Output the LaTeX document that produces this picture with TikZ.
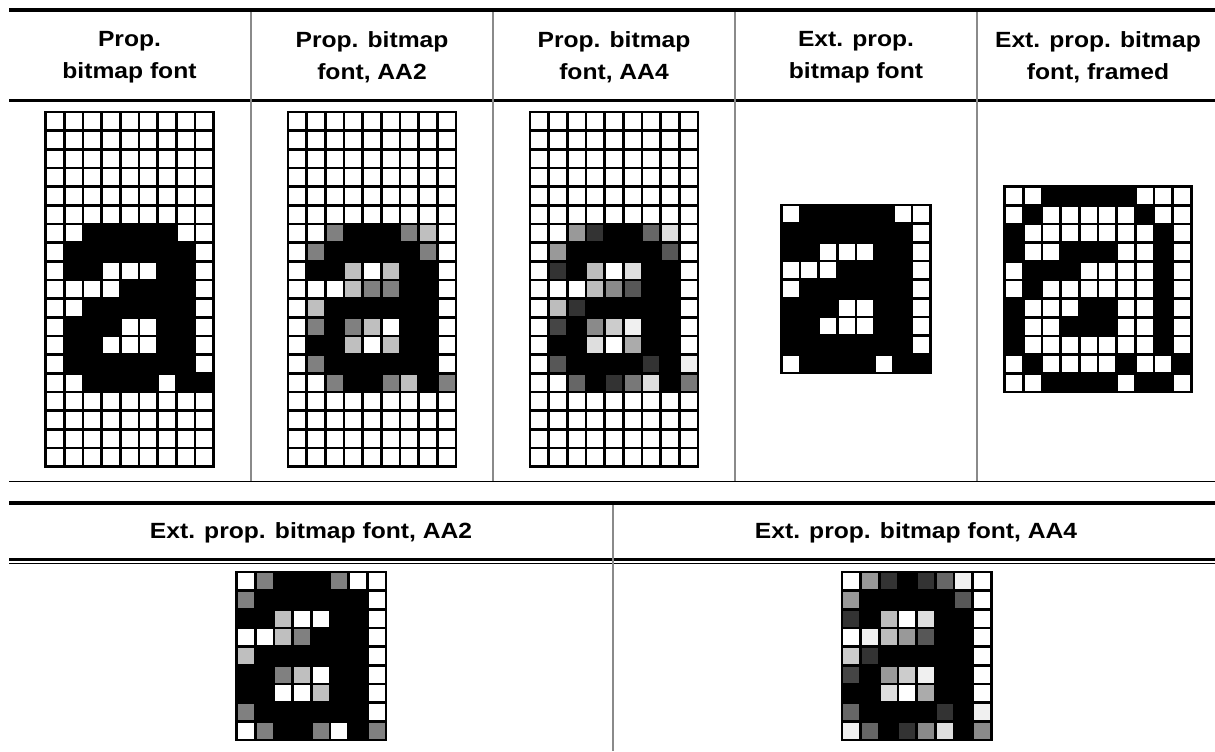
\documentclass[tikz,border=0pt]{standalone}
\usepackage{fontspec}
\setmainfont{Liberation Sans}[FakeStretch=1.12]
\usetikzlibrary{positioning}

\tikzset{
  header/.style={font=\bfseries\fontsize{16.5}{24}\selectfont, align=center, inner sep=0pt},
  pixel/.style={draw=black, line width=2pt},
  toprule/.style={draw=black, line width=3pt},
  midrule/.style={draw=black, line width=2.25pt},
  thinrule/.style={draw=black, line width=0.75pt},
  colsep/.style={draw=black!46, line width=1pt}
}

% Seitenlaenge einer Pixelzelle (in px)
\newcommand{\cellsz}{18.67}
% #1,#2: linke obere Ecke, #3: hoechste Graustufe, #4: Zeilen
\newcommand{\pixgrid}[4]{%
  \foreach \prow [count=\pr from 0] in {#4} {
    \foreach \pv [count=\pc from 0] in \prow {
      \pgfmathtruncatemacro{\pshade}{100*\pv/#3}
      \draw[pixel, fill=black!\pshade] ({#1+\pc*\cellsz},{#2+\pr*\cellsz}) rectangle ++(\cellsz,\cellsz);
    }
  }
}

\begin{document}
\begin{tikzpicture}[x=0.75pt, y=-0.75pt]
    \useasboundingbox (0,0) rectangle (1215,751);

    % ================= OBERE TABELLE =================

    % --- Linien ---
    \draw[toprule] (9,10) -- (1215,10);
    \draw[midrule] (9,100.5) -- (1215,100.5);
    \draw[thinrule] (9,481) -- (1215,481);
    \foreach \sx in {251,493,735,977}
        \draw[colsep] (\sx,12) -- (\sx,481);

    % --- Kopfzeile ---
    \node[header] (kopfA) at (129.5,57) {Prop.\\bitmap font};
    \node[header] (kopfB) at (372,57) {Prop. bitmap\\font, AA2};
    \node[header] (kopfC) at (614,57) {Prop. bitmap\\font, AA4};
    \node[header] (kopfD) at (856,57) {Ext. prop.\\bitmap font};
    \node[header] (kopfE) at (1098,57) {Ext. prop. bitmap\\font, framed};

    % --- Prop. bitmap font ---
    \pixgrid{45.5}{112}{1}{
        {0,0,0,0,0,0,0,0,0},{0,0,0,0,0,0,0,0,0},{0,0,0,0,0,0,0,0,0},
        {0,0,0,0,0,0,0,0,0},{0,0,0,0,0,0,0,0,0},{0,0,0,0,0,0,0,0,0},
        {0,0,1,1,1,1,1,0,0},{0,1,1,1,1,1,1,1,0},{0,1,1,0,0,0,1,1,0},
        {0,0,0,0,1,1,1,1,0},{0,0,1,1,1,1,1,1,0},{0,1,1,1,0,0,1,1,0},
        {0,1,1,0,0,0,1,1,0},{0,1,1,1,1,1,1,1,0},{0,0,1,1,1,1,0,1,1},
        {0,0,0,0,0,0,0,0,0},{0,0,0,0,0,0,0,0,0},{0,0,0,0,0,0,0,0,0},
        {0,0,0,0,0,0,0,0,0}}

    % --- Prop. bitmap font, AA2 (Stufen 0,1,2 und 4 = schwarz) ---
    \pixgrid{288}{112}{4}{
        {0,0,0,0,0,0,0,0,0},{0,0,0,0,0,0,0,0,0},{0,0,0,0,0,0,0,0,0},
        {0,0,0,0,0,0,0,0,0},{0,0,0,0,0,0,0,0,0},{0,0,0,0,0,0,0,0,0},
        {0,0,2,4,4,4,2,1,0},{0,2,4,4,4,4,4,2,0},{0,4,4,1,0,1,4,4,0},
        {0,0,0,1,2,2,4,4,0},{0,1,4,4,4,4,4,4,0},{0,2,4,2,1,0,4,4,0},
        {0,4,4,1,0,1,4,4,0},{0,2,4,4,4,4,4,4,0},{0,0,2,4,4,2,1,4,2},
        {0,0,0,0,0,0,0,0,0},{0,0,0,0,0,0,0,0,0},{0,0,0,0,0,0,0,0,0},
        {0,0,0,0,0,0,0,0,0}}

    % --- Prop. bitmap font, AA4 ---
    \pixgrid{530}{112}{15}{
        {0,0,0,0,0,0,0,0,0},{0,0,0,0,0,0,0,0,0},{0,0,0,0,0,0,0,0,0},
        {0,0,0,0,0,0,0,0,0},{0,0,0,0,0,0,0,0,0},{0,0,0,0,0,0,0,0,0},
        {0,0,6,12,15,15,9,2,0},{0,6,15,15,15,15,15,10,0},{0,12,15,4,0,2,15,15,0},
        {0,0,0,4,7,10,15,15,0},{0,4,12,15,15,15,15,15,0},{0,11,15,7,3,1,15,15,0},
        {0,15,15,2,0,5,15,15,0},{0,10,15,15,15,15,12,15,1},{0,0,9,15,12,8,2,15,8},
        {0,0,0,0,0,0,0,0,0},{0,0,0,0,0,0,0,0,0},{0,0,0,0,0,0,0,0,0},
        {0,0,0,0,0,0,0,0,0}}

    % --- Ext. prop. bitmap font ---
    \pixgrid{781.3}{205}{1}{
        {0,1,1,1,1,1,0,0},{1,1,1,1,1,1,1,0},{1,1,0,0,0,1,1,0},
        {0,0,0,1,1,1,1,0},{0,1,1,1,1,1,1,0},{1,1,1,0,0,1,1,0},
        {1,1,0,0,0,1,1,0},{1,1,1,1,1,1,1,0},{0,1,1,1,1,0,1,1}}

    % --- Ext. prop. bitmap font, framed ---
    \pixgrid{1004.6}{186.7}{1}{
        {0,0,1,1,1,1,1,0,0,0},{0,1,0,0,0,0,0,1,0,0},{1,0,0,0,0,0,0,0,1,0},
        {1,0,0,1,1,1,0,0,1,0},{0,1,1,1,0,0,0,0,1,0},{0,1,0,0,0,0,0,0,1,0},
        {1,0,0,0,1,1,0,0,1,0},{1,0,0,1,1,1,0,0,1,0},{1,0,0,0,0,0,0,0,1,0},
        {0,1,0,0,0,0,1,0,0,1},{0,0,1,1,1,1,0,1,1,0}}

    % ================= UNTERE TABELLE =================

    % --- Linien ---
    \draw[toprule] (9,502.5) -- (1215,502.5);
    \draw[midrule] (9,559.5) -- (1215,559.5);
    \draw[thinrule] (9,563.5) -- (1215,563.5);
    \draw[colsep] (613,505) -- (613,751);

    % --- Kopfzeile ---
    \node[header, anchor=base] (kopfF) at (311,538) {Ext. prop. bitmap font, AA2};
    \node[header, anchor=base] (kopfG) at (916,538) {Ext. prop. bitmap font, AA4};

    % --- Ext. prop. bitmap font, AA2 ---
    \pixgrid{236.7}{572}{4}{
        {0,2,4,4,4,2,0,0},{2,4,4,4,4,4,4,0},{4,4,1,0,0,4,4,0},
        {0,0,1,2,4,4,4,0},{1,4,4,4,4,4,4,0},{4,4,2,1,0,4,4,0},
        {4,4,0,0,1,4,4,0},{2,4,4,4,4,4,4,0},{0,2,4,4,2,0,4,2}}

    % --- Ext. prop. bitmap font, AA4 ---
    \pixgrid{842}{572}{15}{
        {0,6,12,15,12,9,1,0},{6,15,15,15,15,15,10,0},{12,15,4,0,2,15,15,0},
        {0,1,4,6,10,15,15,0},{3,12,15,15,15,15,15,0},{11,15,6,3,1,15,15,0},
        {15,15,2,0,5,15,15,0},{9,15,15,15,15,12,15,1},{1,9,15,12,7,2,15,7}}

\end{tikzpicture}
\end{document}
